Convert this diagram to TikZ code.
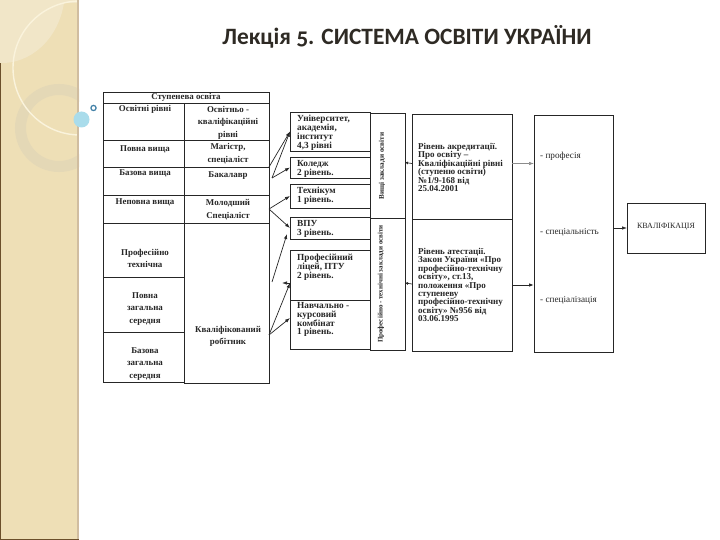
\documentclass[tikz,border=0pt]{standalone}
\usepackage{fontspec}
\setmainfont{Liberation Serif}
\newfontfamily\titlefont[Numbers=OldStyle]{Carlito}
\usetikzlibrary{arrows.meta}
\definecolor{sidebar}{HTML}{EEDFB6}
\definecolor{sidelight}{HTML}{F1E6C8}
\definecolor{sidering}{HTML}{E4D8B6}
\definecolor{sideedge}{HTML}{D0BDA0}
\definecolor{sidedark}{HTML}{6B4F2A}
\definecolor{sidecurve}{HTML}{FAF3DC}
\definecolor{bead}{HTML}{A9DCEB}
\definecolor{ringblue}{HTML}{3F7FA6}
\definecolor{titleink}{HTML}{2E2A24}
\tikzset{
  cellbox/.style={draw=black!85,line width=0.8pt,inner sep=0pt,outer sep=0pt},
  txt/.style={font=\fontsize{9}{8.4}\selectfont\bfseries,inner sep=0pt,align=left,anchor=north west,text=black!85},
  boxtxt/.style={txt,font=\fontsize{9.3}{8.9}\selectfont\bfseries},
  sidetxt/.style={txt,font=\fontsize{7.2}{8}\selectfont\bfseries,anchor=center,rotate=90},
  celltxt/.style={font=\fontsize{8.9}{12.5}\selectfont\bfseries,inner sep=0pt,align=center,anchor=north,text=black!85},
  arr/.style={-{Latex[length=5pt,width=3.5pt]},line width=0.7pt,black!85}
}
% box given by its corners
\newcommand\pbox[5]{%
  \pgfmathsetmacro\bw{#4-#2}\pgfmathsetmacro\bh{#5-#3}
  \node[cellbox,minimum width=\bw pt,minimum height=\bh pt] (#1) at ({(#2+#4)/2},{(#3+#5)/2}) {};
}
\begin{document}
\begin{tikzpicture}[x=1pt,y=-1pt]
\useasboundingbox (0,0) rectangle (720,540);
\fill[white] (0,0) rectangle (720,540);
% left band
\begin{scope}
  \clip (0,0) rectangle (79,540);
  \fill[sidebar] (0,0) rectangle (79,540);
  \fill[sidelight] (0,0) -- (0,63) .. controls (30,64) and (58,40) .. (64,3) -- (64,0) -- cycle;
  \fill[sidelight] (64,0) rectangle (79,3);
  \draw[sidering,line width=11pt] (59,128) circle (38.5);
  \draw[sidecurve,line width=1.4pt] (80,68) circle (67);
  \fill[sideedge] (77,0) rectangle (79,540);
  \fill[sidedark] (0,63) rectangle (1.2,540);
  \fill[sidedark] (0,538.8) rectangle (79,540);
\end{scope}
\fill[bead] (81.5,119.5) circle (8);
\draw[ringblue,line width=1.2pt] (93.5,108) circle (2.6);
% title
\node[font=\titlefont\bfseries\fontsize{23.4}{24}\selectfont,inner sep=0pt,text=titleink] (title) at (407,37)
  {Лекція 5. СИСТЕМА ОСВІТИ УКРАЇНИ};
% table
\pbox{head}{103}{92}{269}{103}
\pbox{cLevel}{103}{103}{184}{140}
\pbox{cQual}{184}{103}{269}{140}
\pbox{cFull}{103}{140}{184}{167}
\pbox{cMaster}{184}{140}{269}{167}
\pbox{cBase}{103}{167}{184}{195}
\pbox{cBach}{184}{167}{269}{195}
\pbox{cPart}{103}{195}{184}{223}
\pbox{cJunior}{184}{195}{269}{223}
\pbox{cProf}{103}{223}{184}{277}
\pbox{cSecFull}{103}{277}{184}{332}
\pbox{cSecBase}{103}{332}{184}{382}
\pbox{cWorker}{184}{223}{269}{383}
\node[celltxt] (tHead) at (186,93) {Ступенева освіта};
\node[celltxt] (tLevel) at (145,105) {Освітні рівні};
\node[celltxt] (tQual) at (228,106) {Освітньо -\\кваліфікаційні\\рівні};
\node[celltxt] (tFull) at (145,145) {Повна вища};
\node[celltxt] (tMaster) at (228,143.5) {Магістр,\\спеціаліст};
\node[celltxt] (tBase) at (145,169) {Базова вища};
\node[celltxt] (tBach) at (228,171) {Бакалавр};
\node[celltxt] (tPart) at (145,198) {Неповна вища};
\node[celltxt] (tJunior) at (228,199.5) {Молодший\\Спеціаліст};
\node[celltxt] (tProf) at (145,249) {Професійно\\технічна};
\node[celltxt] (tSecFull) at (145,292) {Повна\\загальна\\середня};
\node[celltxt] (tSecBase) at (145,347) {Базова\\загальна\\середня};
\node[celltxt] (tWorker) at (228,326) {Кваліфікований\\робітник};
% institutions
\pbox{bUniv}{290}{112}{370}{151}
\pbox{bColl}{290}{157}{370}{178}
\pbox{bTech}{290}{184}{370}{208}
\pbox{bVpu}{290}{217}{370}{239}
\pbox{bLyc}{290}{250}{370}{300}
\pbox{bCourse}{290}{300}{370}{349}
\node[boxtxt] (tUniv) at (297,115) {Університет,\\академія,\\інститут\\4,3 рівні};
\node[boxtxt] (tColl) at (297,160) {Коледж\\2 рівень.};
\node[boxtxt] (tTech) at (297,187) {Технікум\\1 рівень.};
\node[boxtxt] (tVpu) at (297,220) {ВПУ\\3 рівень.};
\node[boxtxt] (tLyc) at (297,254) {Професійний\\ліцей, ПТУ\\2 рівень.};
\node[boxtxt] (tCourse) at (297,302) {Навчально -\\курсовий\\комбінат\\1 рівень.};
% vertical labels
\pbox{vHigh}{370}{113}{405}{218}
\pbox{vVoc}{370}{218}{405}{350}
\node[sidetxt] (tHigh) at (382,166) {Вищі заклади освіти};
\node[sidetxt,font=\fontsize{7}{8}\selectfont\bfseries] (tVoc) at (381,284) {Професійно - технічні заклади освіти};
% accreditation
\pbox{rAccr}{412}{114}{512}{219}
\pbox{rAtt}{412}{219}{512}{351}
\node[txt] (tAccr) at (418,143) {Рівень акредитації.\\Про освіту --\\Кваліфікаційні рівні\\(ступеню освіти)\\№1/9-168 від\\25.04.2001};
\node[txt] (tAtt) at (418,248) {Рівень атестації.\\Закон України «Про\\професійно-технічну\\освіту», ст.13,\\положення «Про\\ступеневу\\професійно-технічну\\освіту» №956 від\\03.06.1995};
% outcome
\pbox{rOut}{534}{115}{613}{352}
\pbox{rFinal}{627}{203}{705}{253}
\foreach\name/\ypos/\lab in {tProfession/156/професія,tSpec/232/спеціальність,tSpecz/300/спеціалізація}
{%
  \node[txt,font=\fontsize{9.2}{9}\selectfont,anchor=west] (\name) at (540,\ypos) {- \lab};
}
\node[txt,font=\fontsize{8}{8}\selectfont,anchor=center] (tFinal) at (666,227) {КВАЛІФІКАЦІЯ};
% arrows from the table
\coordinate (fBach) at (272,178);
\coordinate (fVoc) at (272,282);
\coordinate (fLyc) at (282,283);
\draw[arr] (cMaster.south east) -- (bUniv.west);
\draw[arr] (fBach) -- (bUniv.west);
\draw[arr] (fBach) -- (bColl.west);
\draw[arr] (cJunior.east) -- (bTech.west);
\draw[arr] (cJunior.east) -- (bVpu.west);
\coordinate (toVpu) at (287,234);
\draw[arr] (fVoc) -- (toVpu);
\coordinate (lycIn) at (290,283);
\draw[arr] (lycIn) -- (fLyc);
\coordinate (wOut) at (269,335);
\coordinate (courseIn) at (290,318);
\draw[arr] (wOut) -- (lycIn);
\draw[arr] (wOut) -- (courseIn);
% arrows between the columns
\path (rAccr.west) ++(0,-3) coordinate (aL) (vHigh.east) ++(0,-3) coordinate (vR);
\draw[arr,{Latex[length=3pt,width=3pt]}-] (vR) -- (aL);
\path (rAtt.west) ++(0,-1) coordinate (bL) (vVoc.east) ++(0,-1) coordinate (wR);
\draw[arr,{Latex[length=3pt,width=3pt]}-] (wR) -- (bL);
\path (rAccr.east) ++(0,-3) coordinate (cL) (rOut.west |- cL) coordinate (cR);
\draw[arr,black!45] (cL) -- (cR);
\path (rAtt.east) coordinate (dL) (rOut.west |- dL) coordinate (dR);
\draw[arr,line width=1pt] (dL) -- (dR);
\path (rFinal.west) coordinate (eR) (rOut.east |- eR) coordinate (eL);
\draw[arr] (eL) -- (eR);
\end{tikzpicture}
\end{document}
